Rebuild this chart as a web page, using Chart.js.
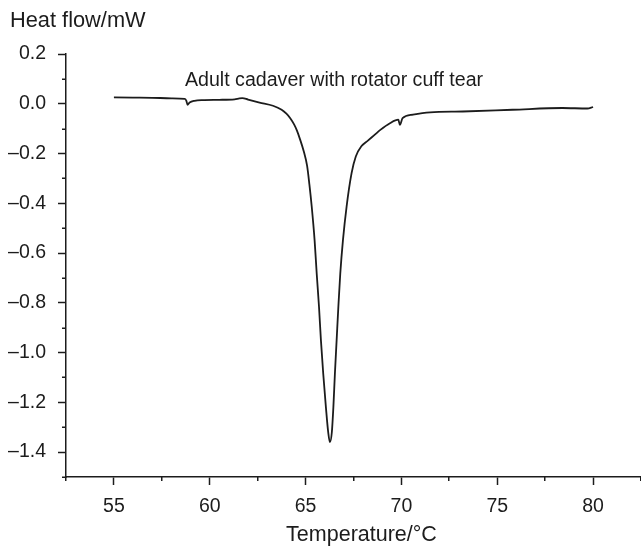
<!DOCTYPE html>
<html>
<head>
<meta charset="utf-8">
<script src="https://cdn.jsdelivr.net/npm/chart.js@4.4.1/dist/chart.umd.min.js"></script>
<style>
  html, body { margin: 0; padding: 0; background: #ffffff; }
  #wrap { width: 641px; height: 547px; }
</style>
</head>
<body>
<div id="wrap"><canvas id="c" width="641" height="547"></canvas></div>
<script>
// ---- data ----
const temperature = [55.0, 56.0, 57.0, 58.0, 58.7, 58.78, 58.84, 58.95, 59.2, 59.6, 60.5, 61.3, 61.55, 61.7, 62.0, 62.6, 63.3, 63.75, 64.0, 64.2, 64.4, 64.55, 64.72, 64.9, 65.08, 65.2, 65.32, 65.47, 65.58, 65.70, 65.80, 65.92, 66.06, 66.18, 66.27, 66.37, 66.45, 66.53, 66.62, 66.71, 66.81, 66.95, 67.14, 67.40, 67.62, 67.92, 68.25, 68.6, 68.9, 69.4, 69.84, 69.92, 70.06, 70.6, 71.5, 73.2, 75.8, 78.4, 79.7, 80.0];
const heatFlow = [0.026, 0.025, 0.024, 0.022, 0.020, 0.012, -0.004, 0.005, 0.012, 0.015, 0.016, 0.018, 0.022, 0.023, 0.017, 0.005, -0.008, -0.024, -0.040, -0.058, -0.083, -0.108, -0.145, -0.190, -0.250, -0.325, -0.413, -0.548, -0.682, -0.816, -0.950, -1.084, -1.219, -1.320, -1.360, -1.320, -1.219, -1.084, -0.950, -0.816, -0.682, -0.548, -0.413, -0.279, -0.212, -0.170, -0.148, -0.125, -0.105, -0.078, -0.064, -0.085, -0.058, -0.044, -0.035, -0.031, -0.024, -0.017, -0.019, -0.013];
const xTicks = [55, 60, 65, 70, 75, 80];
const xMinorTicks = [52.5, 57.5, 62.5, 67.5, 72.5, 77.5, 82.5];
const yTicks = [0.2, 0.0, -0.2, -0.4, -0.6, -0.8, -1.0, -1.2, -1.4];
const yMinorTicks = [0.1, -0.1, -0.3, -0.5, -0.7, -0.9, -1.1, -1.3, -1.5];
const yAxisTitle = 'Heat flow/mW';
const xAxisTitle = 'Temperature/°C';
const annotationText = 'Adult cadaver with rotator cuff tear';

const INK = '#1c1c1c';
const FONT = "'Liberation Sans', Arial, Helvetica, sans-serif";

const points = temperature.map((t, i) => ({ x: t, y: heatFlow[i] }));

function fmtY(v) {
  const s = Math.abs(v).toFixed(1);
  return (v < -1e-9 ? '\u2013' : '') + s;
}

const extrasPlugin = {
  id: 'extras',
  afterDraw(chart) {
    const ctx = chart.ctx;
    const xs = chart.scales.x, ys = chart.scales.y;
    const a = chart.chartArea;
    ctx.save();
    ctx.strokeStyle = INK;
    ctx.lineWidth = 1.5;
    ctx.beginPath();
    xMinorTicks.forEach(v => {
      const px = Math.round(xs.getPixelForValue(v)) - 0.25;
      ctx.moveTo(px, a.bottom);
      ctx.lineTo(px, a.bottom + 4);
    });
    yMinorTicks.forEach(v => {
      const py = Math.round(ys.getPixelForValue(v)) + 0.25;
      ctx.moveTo(a.left, py);
      ctx.lineTo(a.left - 4, py);
    });
    ctx.stroke();
    ctx.fillStyle = INK;
    ctx.textBaseline = 'alphabetic';
    ctx.textAlign = 'left';
    ctx.font = "21.8px " + FONT;
    ctx.fillText(yAxisTitle, 10, 27);
    ctx.font = "19.6px " + FONT;
    ctx.fillText(annotationText, 185, 86);
    ctx.textAlign = 'center';
    ctx.font = "21.5px " + FONT;
    ctx.fillText(xAxisTitle, 361.5, 541);
    ctx.restore();
  }
};

new Chart(document.getElementById('c'), {
  type: 'scatter',
  data: {
    datasets: [{
      data: points,
      showLine: true,
      borderColor: INK,
      borderWidth: 1.8,
      pointRadius: 0,
      fill: false,
      tension: 0,
      cubicInterpolationMode: 'monotone'
    }]
  },
  options: {
    responsive: false,
    animation: false,
    devicePixelRatio: 1,
    layout: { padding: { top: 54, right: 0, bottom: 0, left: 0 } },
    plugins: {
      legend: { display: false },
      tooltip: { enabled: false },
      title: { display: false }
    },
    scales: {
      x: {
        type: 'linear',
        min: 52.5,
        max: 82.5,
        afterBuildTicks: (s) => { s.ticks = xTicks.map(v => ({ value: v })); },
        afterFit: (s) => { s.height = 70; },
        grid: {
          display: true, drawOnChartArea: false, drawTicks: true,
          tickLength: 8, tickColor: INK, tickWidth: 1.5
        },
        border: { display: true, color: INK, width: 1.5 },
        ticks: {
          color: INK, padding: 10,
          font: { family: FONT, size: 19.5 },
          maxRotation: 0, autoSkip: false,
          callback: (v) => String(v)
        },
        title: { display: false }
      },
      y: {
        type: 'linear',
        min: -1.5,
        max: 0.2,
        afterBuildTicks: (s) => { s.ticks = yTicks.map(v => ({ value: v })); },
        afterFit: (s) => { s.width = 66; },
        grid: {
          display: true, drawOnChartArea: false, drawTicks: true,
          tickLength: 8, tickColor: INK, tickWidth: 1.5
        },
        border: { display: true, color: INK, width: 1.5 },
        ticks: {
          color: INK, padding: 12,
          font: { family: FONT, size: 19.5 },
          autoSkip: false,
          callback: (v) => fmtY(v)
        }
      }
    }
  },
  plugins: [extrasPlugin]
});
</script>
</body>
</html>
